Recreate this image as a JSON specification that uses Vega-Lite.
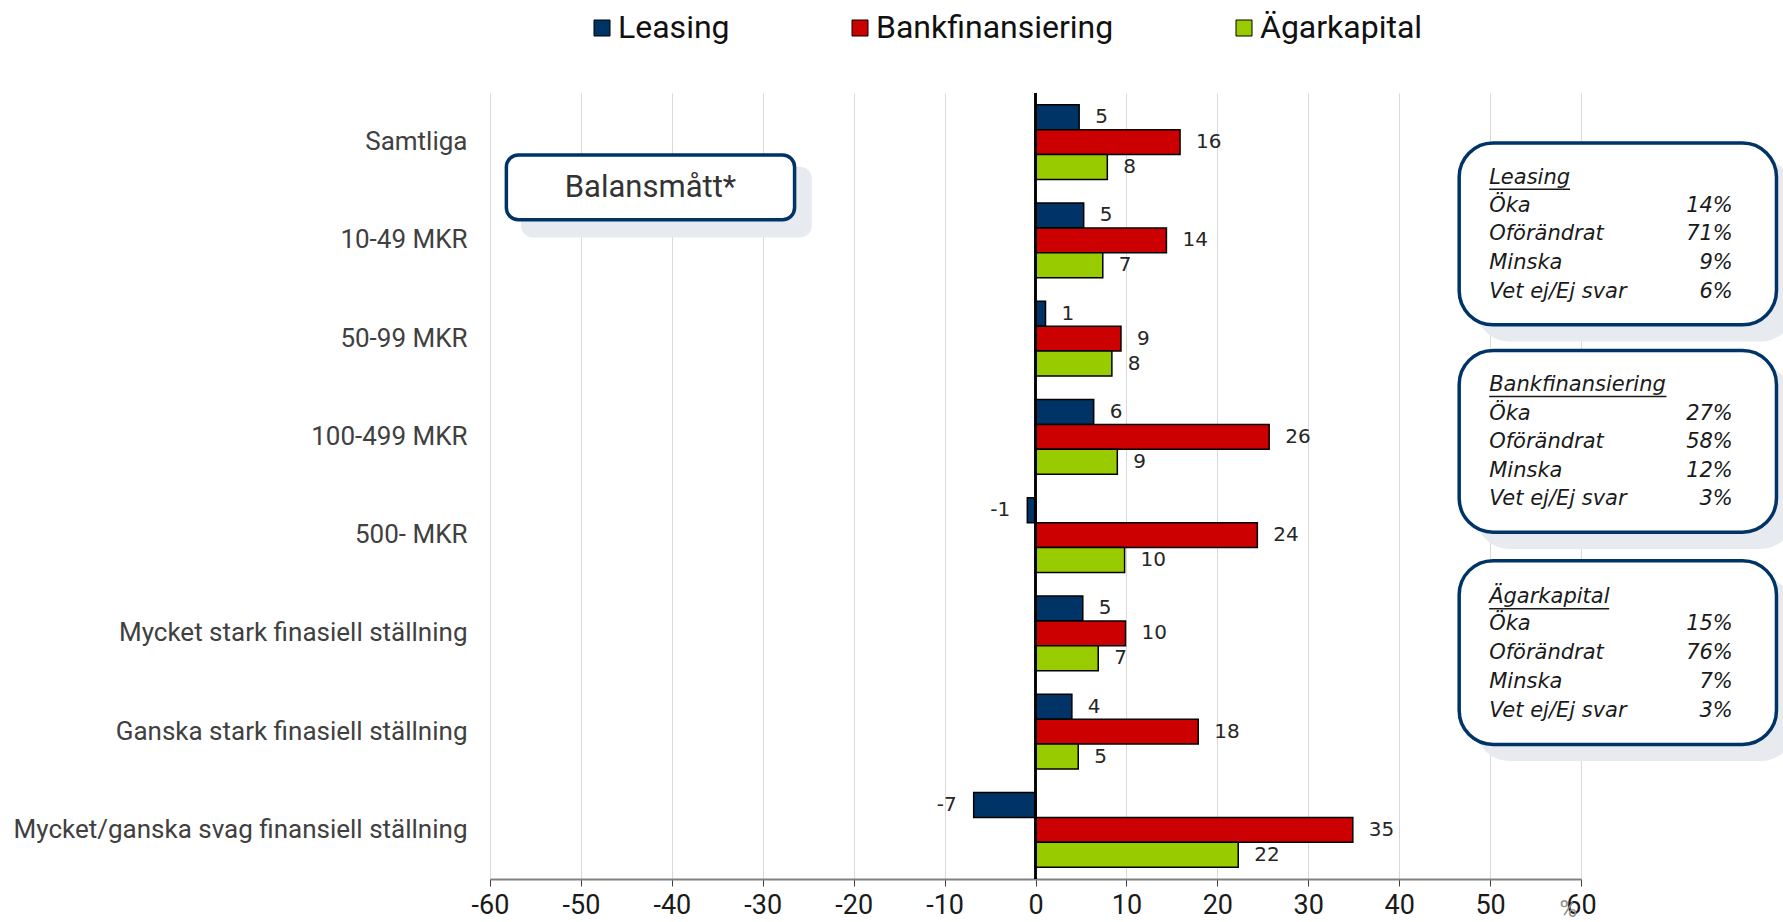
{
  "$schema": "https://vega.github.io/schema/vega-lite/v6.json",
  "width": 1091,
  "height": 786,
  "autosize": {"type": "none"},
  "padding": {"left": 490, "top": 93, "right": 202, "bottom": 43},
  "background": "white",
  "config": {
    "view": {"stroke": null},
    "locale": {"number": {"decimal": ".", "thousands": ",", "grouping": [3], "currency": ["", ""], "minus": "-"}}
  },
  "datasets": {
    "bars": [
      {"cat": "Samtliga", "series": "Leasing", "value": 4.8},
      {"cat": "Samtliga", "series": "Bankfinansiering", "value": 15.9},
      {"cat": "Samtliga", "series": "Ägarkapital", "value": 7.9},
      {"cat": "10-49 MKR", "series": "Leasing", "value": 5.3},
      {"cat": "10-49 MKR", "series": "Bankfinansiering", "value": 14.4},
      {"cat": "10-49 MKR", "series": "Ägarkapital", "value": 7.4},
      {"cat": "50-99 MKR", "series": "Leasing", "value": 1.1},
      {"cat": "50-99 MKR", "series": "Bankfinansiering", "value": 9.4},
      {"cat": "50-99 MKR", "series": "Ägarkapital", "value": 8.4},
      {"cat": "100-499 MKR", "series": "Leasing", "value": 6.4},
      {"cat": "100-499 MKR", "series": "Bankfinansiering", "value": 25.7},
      {"cat": "100-499 MKR", "series": "Ägarkapital", "value": 9.0},
      {"cat": "500- MKR", "series": "Leasing", "value": -0.9},
      {"cat": "500- MKR", "series": "Bankfinansiering", "value": 24.4},
      {"cat": "500- MKR", "series": "Ägarkapital", "value": 9.8},
      {"cat": "Mycket stark finasiell ställning", "series": "Leasing", "value": 5.2},
      {"cat": "Mycket stark finasiell ställning", "series": "Bankfinansiering", "value": 9.9},
      {"cat": "Mycket stark finasiell ställning", "series": "Ägarkapital", "value": 6.9},
      {"cat": "Ganska stark finasiell ställning", "series": "Leasing", "value": 4.0},
      {"cat": "Ganska stark finasiell ställning", "series": "Bankfinansiering", "value": 17.9},
      {"cat": "Ganska stark finasiell ställning", "series": "Ägarkapital", "value": 4.7},
      {"cat": "Mycket/ganska svag finansiell ställning", "series": "Leasing", "value": -6.8},
      {"cat": "Mycket/ganska svag finansiell ställning", "series": "Bankfinansiering", "value": 34.9},
      {"cat": "Mycket/ganska svag finansiell ställning", "series": "Ägarkapital", "value": 22.3}
    ],
    "balansShadow": [{"x1": -56.6, "x2": -24.6, "y1": 0.75, "y2": 1.47}],
    "balansBox": [{"x1": -58.2, "x2": -26.5, "y1": 0.63, "y2": 1.29}],
    "balansText": [{"x": -42.35, "y": 0.967, "text": "Balansmått*"}],
    "infoShadows": [
      {"x1": 48.4, "x2": 83.5, "y1": 0.68, "y2": 2.53},
      {"x1": 48.4, "x2": 83.5, "y1": 2.79, "y2": 4.64},
      {"x1": 48.4, "x2": 83.5, "y1": 4.93, "y2": 6.8}
    ],
    "infoBoxes": [
      {"x1": 46.6, "x2": 81.5, "y1": 0.51, "y2": 2.36},
      {"x1": 46.6, "x2": 81.5, "y1": 2.62, "y2": 4.47},
      {"x1": 46.6, "x2": 81.5, "y1": 4.76, "y2": 6.63}
    ],
    "infoLeft": [
      {"x": 49.9, "y": 0.865, "text": "Leasing"},
      {"x": 49.9, "y": 1.15, "text": "Öka"},
      {"x": 49.9, "y": 1.435, "text": "Oförändrat"},
      {"x": 49.9, "y": 1.73, "text": "Minska"},
      {"x": 49.9, "y": 2.025, "text": "Vet ej/Ej svar"},
      {"x": 49.9, "y": 2.972, "text": "Bankfinansiering"},
      {"x": 49.9, "y": 3.267, "text": "Öka"},
      {"x": 49.9, "y": 3.552, "text": "Oförändrat"},
      {"x": 49.9, "y": 3.847, "text": "Minska"},
      {"x": 49.9, "y": 4.132, "text": "Vet ej/Ej svar"},
      {"x": 49.9, "y": 5.13, "text": "Ägarkapital"},
      {"x": 49.9, "y": 5.405, "text": "Öka"},
      {"x": 49.9, "y": 5.7, "text": "Oförändrat"},
      {"x": 49.9, "y": 5.995, "text": "Minska"},
      {"x": 49.9, "y": 6.29, "text": "Vet ej/Ej svar"}
    ],
    "infoRight": [
      {"x": 76.7, "y": 1.15, "text": "14%"},
      {"x": 76.7, "y": 1.435, "text": "71%"},
      {"x": 76.7, "y": 1.73, "text": "9%"},
      {"x": 76.7, "y": 2.025, "text": "6%"},
      {"x": 76.7, "y": 3.267, "text": "27%"},
      {"x": 76.7, "y": 3.552, "text": "58%"},
      {"x": 76.7, "y": 3.847, "text": "12%"},
      {"x": 76.7, "y": 4.132, "text": "3%"},
      {"x": 76.7, "y": 5.405, "text": "15%"},
      {"x": 76.7, "y": 5.7, "text": "76%"},
      {"x": 76.7, "y": 5.995, "text": "7%"},
      {"x": 76.7, "y": 6.29, "text": "3%"}
    ],
    "underlines": [
      {"x1": 49.9, "x2": 58.8, "y": 0.98},
      {"x1": 49.9, "x2": 69.4, "y": 3.09},
      {"x1": 49.9, "x2": 63.1, "y": 5.25}
    ],
    "pct": [{"x": 58.6, "y": 8.32, "text": "%"}]
  },
  "layer": [
    {
      "data": {"name": "bars"},
      "layer": [
        {
          "mark": {"type": "bar", "stroke": "black", "strokeWidth": 1.5},
          "encoding": {
            "y": {
              "field": "cat", "type": "nominal",
              "sort": ["Samtliga", "10-49 MKR", "50-99 MKR", "100-499 MKR", "500- MKR", "Mycket stark finasiell ställning", "Ganska stark finasiell ställning", "Mycket/ganska svag finansiell ställning"],
              "scale": {"paddingInner": 0.24, "paddingOuter": 0.12},
              "axis": {"title": null, "domain": false, "ticks": false, "labelFontSize": 26, "labelFont": "Roboto", "labelColor": "#404040", "labelPadding": 23, "labelLimit": 700}
            },
            "yOffset": {
              "field": "series", "type": "nominal",
              "sort": ["Leasing", "Bankfinansiering", "Ägarkapital"],
              "scale": {"paddingInner": 0, "paddingOuter": 0}
            },
            "x": {
              "field": "value", "type": "quantitative",
              "scale": {"domain": [-60, 60], "nice": false, "zero": false},
              "axis": {
                "title": null, "values": [-60, -50, -40, -30, -20, -10, 0, 10, 20, 30, 40, 50, 60],
                "grid": true, "gridColor": "#d9d9d9", "gridWidth": 1,
                "domainColor": "#808080", "domainWidth": 2,
                "tickColor": "#404040", "tickSize": 7, "tickWidth": 1,
                "labelFontSize": 27, "labelFont": "Roboto", "labelColor": "#1a1a1a", "labelPadding": 6,
                "format": "d", "labelFlush": false, "labelOverlap": false
              }
            },
            "color": {
              "field": "series", "type": "nominal",
              "scale": {"domain": ["Leasing", "Bankfinansiering", "Ägarkapital"], "range": ["#003366", "#CC0000", "#99CC00"]},
              "legend": {
                "title": null, "orient": "none", "legendX": 96, "legendY": -81,
                "direction": "horizontal", "columns": 3, "columnPadding": 114,
                "symbolType": "square", "symbolSize": 256, "symbolStrokeColor": "black", "symbolStrokeWidth": 1,
                "labelFontSize": 32, "labelFont": "Roboto", "labelColor": "#111111", "labelOffset": 0,
                "padding": 0, "labelLimit": 400
              }
            }
          }
        },
        {
          "transform": [{"filter": "datum.value >= 0"}],
          "mark": {"type": "text", "align": "left", "dx": 16, "baseline": "middle", "font": "DejaVu Sans", "fontSize": 20, "color": "#262626"},
          "encoding": {
            "y": {"field": "cat", "type": "nominal", "sort": ["Samtliga", "10-49 MKR", "50-99 MKR", "100-499 MKR", "500- MKR", "Mycket stark finasiell ställning", "Ganska stark finasiell ställning", "Mycket/ganska svag finansiell ställning"]},
            "yOffset": {"field": "series", "type": "nominal", "sort": ["Leasing", "Bankfinansiering", "Ägarkapital"]},
            "x": {"field": "value", "type": "quantitative", "scale": {"domain": [-60, 60], "nice": false, "zero": false}},
            "text": {"field": "value", "type": "quantitative", "format": ".0f"}
          }
        },
        {
          "transform": [{"filter": "datum.value < 0"}],
          "mark": {"type": "text", "align": "right", "dx": -17, "baseline": "middle", "font": "DejaVu Sans", "fontSize": 20, "color": "#262626"},
          "encoding": {
            "y": {"field": "cat", "type": "nominal", "sort": ["Samtliga", "10-49 MKR", "50-99 MKR", "100-499 MKR", "500- MKR", "Mycket stark finasiell ställning", "Ganska stark finasiell ställning", "Mycket/ganska svag finansiell ställning"]},
            "yOffset": {"field": "series", "type": "nominal", "sort": ["Leasing", "Bankfinansiering", "Ägarkapital"]},
            "x": {"field": "value", "type": "quantitative", "scale": {"domain": [-60, 60], "nice": false, "zero": false}},
            "text": {"field": "value", "type": "quantitative", "format": ".0f"}
          }
        },
        {
          "mark": {"type": "rule", "color": "black", "strokeWidth": 1.2},
          "encoding": {"x": {"datum": 0, "type": "quantitative"}}
        }
      ]
    },
    {
      "layer": [
        {
          "data": {"name": "balansShadow"},
          "mark": {"type": "rect", "fill": "#e7ebef", "cornerRadius": 12},
          "encoding": {
            "x": {"field": "x1", "type": "quantitative", "scale": {"domain": [-60, 60], "nice": false, "zero": false}},
            "x2": {"field": "x2"},
            "y": {"field": "y1", "type": "quantitative", "scale": {"domain": [0, 8], "reverse": true, "nice": false, "zero": false}, "axis": null},
            "y2": {"field": "y2"}
          }
        },
        {
          "data": {"name": "balansBox"},
          "mark": {"type": "rect", "fill": "white", "stroke": "#003366", "strokeWidth": 3.5, "cornerRadius": 12},
          "encoding": {
            "x": {"field": "x1", "type": "quantitative", "scale": {"domain": [-60, 60], "nice": false, "zero": false}},
            "x2": {"field": "x2"},
            "y": {"field": "y1", "type": "quantitative", "scale": {"domain": [0, 8], "reverse": true, "nice": false, "zero": false}, "axis": null},
            "y2": {"field": "y2"}
          }
        },
        {
          "data": {"name": "balansText"},
          "mark": {"type": "text", "align": "center", "baseline": "middle", "font": "Roboto", "fontSize": 31, "color": "#333333"},
          "encoding": {
            "x": {"field": "x", "type": "quantitative", "scale": {"domain": [-60, 60], "nice": false, "zero": false}},
            "y": {"field": "y", "type": "quantitative", "scale": {"domain": [0, 8], "reverse": true, "nice": false, "zero": false}, "axis": null},
            "text": {"field": "text"}
          }
        },
        {
          "data": {"name": "infoShadows"},
          "mark": {"type": "rect", "fill": "#e7ebef", "cornerRadius": 34},
          "encoding": {
            "x": {"field": "x1", "type": "quantitative", "scale": {"domain": [-60, 60], "nice": false, "zero": false}},
            "x2": {"field": "x2"},
            "y": {"field": "y1", "type": "quantitative", "scale": {"domain": [0, 8], "reverse": true, "nice": false, "zero": false}, "axis": null},
            "y2": {"field": "y2"}
          }
        },
        {
          "data": {"name": "infoBoxes"},
          "mark": {"type": "rect", "fill": "white", "stroke": "#003366", "strokeWidth": 3.5, "cornerRadius": 34},
          "encoding": {
            "x": {"field": "x1", "type": "quantitative", "scale": {"domain": [-60, 60], "nice": false, "zero": false}},
            "x2": {"field": "x2"},
            "y": {"field": "y1", "type": "quantitative", "scale": {"domain": [0, 8], "reverse": true, "nice": false, "zero": false}, "axis": null},
            "y2": {"field": "y2"}
          }
        },
        {
          "data": {"name": "infoLeft"},
          "mark": {"type": "text", "align": "left", "baseline": "middle", "font": "DejaVu Sans", "fontStyle": "italic", "fontSize": 21, "color": "#1a1a1a"},
          "encoding": {
            "x": {"field": "x", "type": "quantitative", "scale": {"domain": [-60, 60], "nice": false, "zero": false}},
            "y": {"field": "y", "type": "quantitative", "scale": {"domain": [0, 8], "reverse": true, "nice": false, "zero": false}, "axis": null},
            "text": {"field": "text"}
          }
        },
        {
          "data": {"name": "infoRight"},
          "mark": {"type": "text", "align": "right", "baseline": "middle", "font": "DejaVu Sans", "fontStyle": "italic", "fontSize": 21, "color": "#1a1a1a"},
          "encoding": {
            "x": {"field": "x", "type": "quantitative", "scale": {"domain": [-60, 60], "nice": false, "zero": false}},
            "y": {"field": "y", "type": "quantitative", "scale": {"domain": [0, 8], "reverse": true, "nice": false, "zero": false}, "axis": null},
            "text": {"field": "text"}
          }
        },
        {
          "data": {"name": "underlines"},
          "mark": {"type": "rule", "color": "#1a1a1a", "strokeWidth": 1.5},
          "encoding": {
            "x": {"field": "x1", "type": "quantitative", "scale": {"domain": [-60, 60], "nice": false, "zero": false}},
            "x2": {"field": "x2"},
            "y": {"field": "y", "type": "quantitative", "scale": {"domain": [0, 8], "reverse": true, "nice": false, "zero": false}, "axis": null}
          }
        },
        {
          "data": {"name": "pct"},
          "mark": {"type": "text", "align": "center", "baseline": "middle", "font": "Roboto", "fontSize": 24, "color": "#8c8c8c"},
          "encoding": {
            "x": {"field": "x", "type": "quantitative", "scale": {"domain": [-60, 60], "nice": false, "zero": false}},
            "y": {"field": "y", "type": "quantitative", "scale": {"domain": [0, 8], "reverse": true, "nice": false, "zero": false}, "axis": null},
            "text": {"field": "text"}
          }
        }
      ]
    }
  ],
  "resolve": {"scale": {"y": "independent"}}
}
